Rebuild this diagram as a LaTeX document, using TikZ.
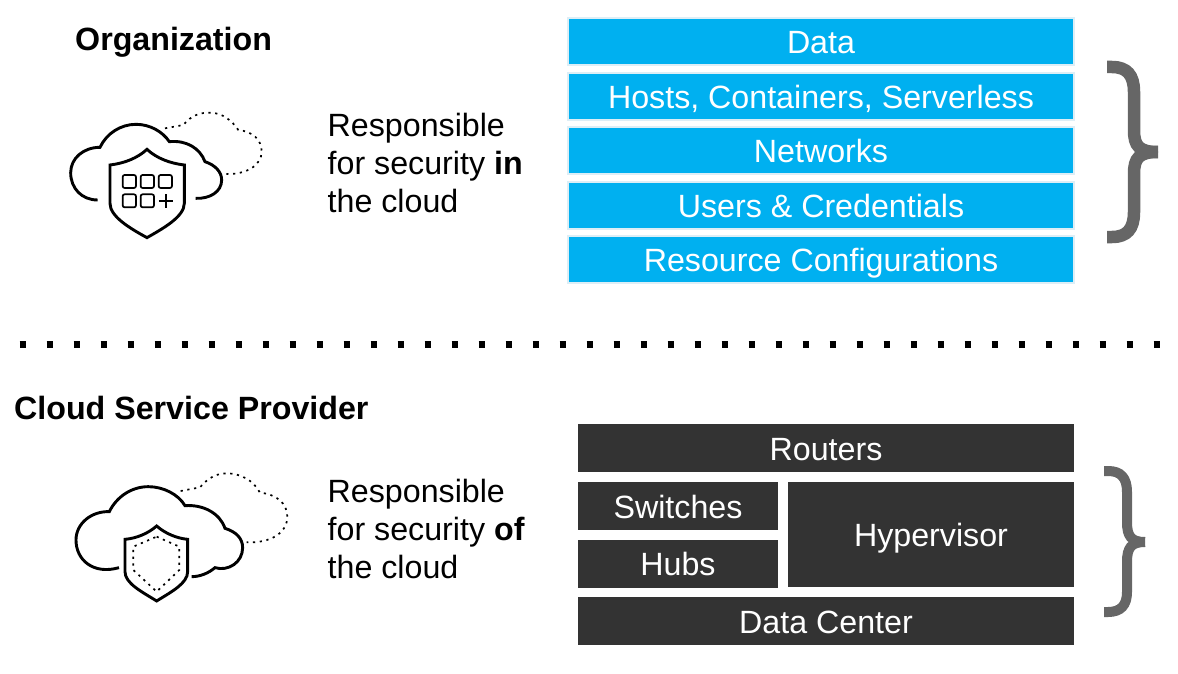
\documentclass[tikz,border=0pt]{standalone}
\usepackage{fontspec}
\setmainfont{Liberation Sans}
\usetikzlibrary{positioning}
\definecolor{layerblue}{HTML}{00B0F0}
\definecolor{layeredge}{HTML}{DDEEF6}
\definecolor{layerdark}{HTML}{333333}
\definecolor{bracegray}{HTML}{666666}

\begin{document}
\begin{tikzpicture}[x=1pt,
            y=-1pt,
            every node/.style={inner sep=0pt,font=\fontsize{32.2}{38}\selectfont},
            title/.style={anchor=west,font=\fontsize{32.2}{38}\selectfont\bfseries},
            caption/.style={anchor=west,align=left},
            bluebox/.style={fill=layerblue,draw=layeredge,line width=2pt,text=white,
                            minimum width=506pt,minimum height=47pt,text height=24pt,text depth=0pt},
            darkbox/.style={fill=layerdark,text=white,minimum height=48pt,text height=24pt,text depth=0pt},
            outline/.style={black,line width=2.9pt},
            thinoutline/.style={black,line width=1.7pt,rounded corners=2pt},
            dotline/.style={black,line width=1.7pt,dash pattern=on 2.2pt off 4.6pt}]

        \useasboundingbox (0,0) rectangle (1178,674);

        \node[title,text height=24pt,text depth=0pt] (org) at (75,39) {Organization};
        \node[title,text height=24pt,text depth=0pt] (csp) at (14,407.5) {Cloud Service Provider};
        \node[caption] (in)   at (327.5,163) {Responsible\\for security \textbf{in}\\the cloud};
        \node[caption] (of)   at (327.5,529) {Responsible\\for security \textbf{of}\\the cloud};

        % customer side
        \node[bluebox] (data)  at (821,42)    {Data};
        \node[bluebox] (hosts) [below=5.4pt of data]  {Hosts, Containers, Serverless};
        \node[bluebox] (nets)  [below=5.4pt of hosts] {Networks};
        \node[bluebox] (users) [below=5.4pt of nets]  {Users \& Credentials};
        \node[bluebox] (conf)  [below=5.4pt of users] {Resource Configurations};

        % provider side
        \node[darkbox,minimum width=496pt] (routers) at (826,448) {Routers};
        \node[darkbox,minimum width=200pt,anchor=north west] (switches)
             [below=10pt of routers.south west,anchor=north west] {Switches};
        \node[darkbox,minimum width=200pt,anchor=north west] (hubs)
             [below=9pt of switches.south west,anchor=north west] {Hubs};
        \node[darkbox,minimum width=286pt,minimum height=105pt,anchor=north east] (hyper)
             [below=10pt of routers.south east,anchor=north east] {Hypervisor};
        \node[darkbox,minimum width=496pt] (center) at (826,621) {Data Center};

        % divider
        \coordinate (dotl) at (19.5,344.5);
        \coordinate (dotr) at (1165,344.5);
        \draw[black,line width=6.5pt,dash pattern=on 6.5pt off 20.5pt] (dotl) -- (dotr);

        % braces
        \draw[bracegray,line width=12.5pt]
            (1107,67) -- (1112,67) .. controls (1127,67) and (1134,75) .. (1134,92) -- (1134,130)
            .. controls (1134,146) and (1139,152) .. (1158,152);
        \draw[bracegray,line width=12.5pt]
            (1158,152) .. controls (1139,152) and (1134,158) .. (1134,174) -- (1134,212)
            .. controls (1134,229) and (1127,237) .. (1112,237) -- (1107,237);
        \draw[bracegray,line width=10pt]
            (1104,471) -- (1108,471) .. controls (1121,471) and (1127,478) .. (1127,492) -- (1127,522)
            .. controls (1127,536) and (1131,542) .. (1145,542);
        \draw[bracegray,line width=10pt]
            (1145,542) .. controls (1131,542) and (1127,548) .. (1127,562) -- (1127,592)
            .. controls (1127,605) and (1121,612) .. (1108,612) -- (1104,612);

        % first icon
        \begin{scope}[shift={(50,90)},x=0.3333pt,y=-0.3333pt]
            \draw[outline] (143,330) .. controls (95,330) and (62,295) .. (62,248)
                .. controls (62,205) and (100,172) .. (150,172)
                .. controls (170,130) and (212,103) .. (258,103)
                .. controls (300,103) and (338,125) .. (358,155)
                .. controls (410,150) and (450,175) .. (465,215)
                .. controls (495,225) and (515,245) .. (515,270)
                .. controls (515,305) and (480,327) .. (437,325);
            \draw[dotline] (345,115) -- (400,105) .. controls (425,75) and (450,68) .. (480,68)
                .. controls (515,68) and (545,90) .. (565,120)
                .. controls (610,125) and (635,150) .. (635,185)
                .. controls (635,225) and (590,255) .. (525,252);
            \draw[outline,fill=white] (291,178) .. controls (320,205) and (360,220) .. (403,225) -- (403,340)
                .. controls (403,380) and (340,415) .. (291,443)
                .. controls (240,415) and (180,380) .. (180,340) -- (180,225)
                .. controls (222,220) and (262,205) .. cycle;
            \foreach \cx/\cy in {218/255,272/255,326/255,218/313,272/313}
                \draw[thinoutline] (\cx,\cy) rectangle ++(40,39);
            \draw[black,line width=1.7pt] (327,333) -- (368,333) (347,313) -- (347,355);
        \end{scope}

        % second icon
        \begin{scope}[shift={(50,455)},x=0.3333pt,y=-0.3333pt]
            \draw[outline] (207,338) .. controls (130,360) and (78,315) .. (78,255)
                .. controls (78,205) and (125,168) .. (178,170)
                .. controls (200,125) and (245,95) .. (295,95)
                .. controls (340,95) and (385,118) .. (405,152)
                .. controls (460,148) and (510,175) .. (525,220)
                .. controls (558,230) and (578,250) .. (578,278)
                .. controls (578,322) and (535,350) .. (495,338)
                .. controls (475,355) and (450,365) .. (425,365);
            \draw[dotline] (392,108) -- (450,97) .. controls (475,68) and (500,55) .. (530,55)
                .. controls (570,55) and (610,75) .. (630,113)
                .. controls (680,118) and (712,145) .. (712,185)
                .. controls (712,235) and (660,265) .. (590,262);
            \draw[outline,fill=white] (320,213) .. controls (345,235) and (380,250) .. (413,253) -- (413,350)
                .. controls (413,385) and (365,410) .. (320,438)
                .. controls (275,410) and (225,385) .. (225,350) -- (225,253)
                .. controls (260,250) and (295,235) .. cycle;
            \draw[dotline] (320,245) -- (388,275) -- (388,345) -- (320,410) -- (250,345) -- (250,275) -- cycle;
        \end{scope}

\end{tikzpicture}
\end{document}
